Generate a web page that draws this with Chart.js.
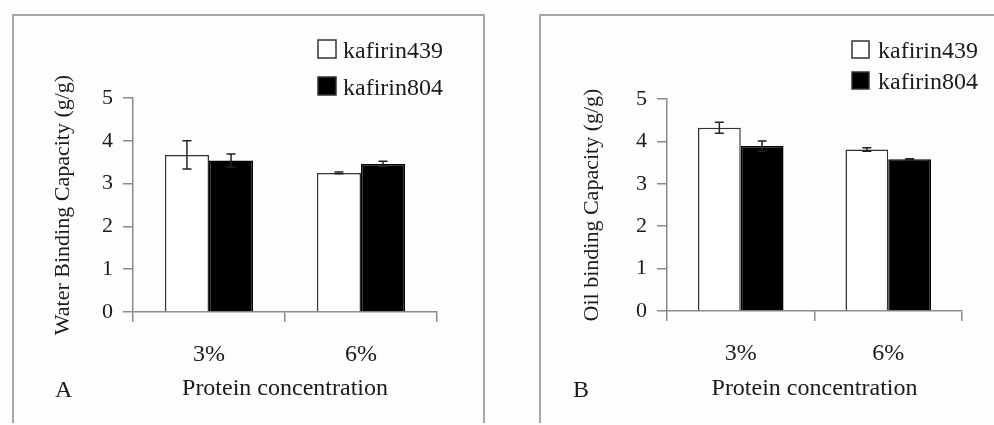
<!DOCTYPE html>
<html>
<head>
<meta charset="utf-8">
<script src="https://cdn.jsdelivr.net/npm/chart.js@4/dist/chart.umd.min.js"></script>
<style>
  html, body { margin: 0; padding: 0; background: #fdfdfd; }
  body { width: 994px; height: 425px; position: relative; overflow: hidden; }
  .frame { position: absolute; border: 2px solid #a6a6a6; border-bottom: none; box-sizing: border-box; }
  canvas { position: absolute; top: 0; }
</style>
</head>
<body>
<div class="frame" style="left:12px; top:14px; width:473px; height:409px;"></div>
<div class="frame" style="left:539px; top:14px; width:470px; height:409px; border-right:none;"></div>
<canvas id="chartA" width="500" height="425" style="left:0px;"></canvas>
<canvas id="chartB" width="494" height="425" style="left:500px;"></canvas>
<script>
// ---- data ----
const categories = ['3%', '6%'];
const seriesNames = ['kafirin439', 'kafirin804'];
const yTicks = [0, 1, 2, 3, 4, 5];

// Panel A: Water Binding Capacity (g/g)
const waterK439 = [3.67, 3.25];
const waterK439Err = [0.33, 0.02];
const waterK804 = [3.54, 3.46];
const waterK804Err = [0.15, 0.06];

// Panel B: Oil binding Capacity (g/g)
const oilK439 = [4.32, 3.81];
const oilK439Err = [0.13, 0.04];
const oilK804 = [3.89, 3.58];
const oilK804Err = [0.12, 0.01];

const xTitle = 'Protein concentration';
const yTitleA = 'Water Binding Capacity (g/g)';
const yTitleB = 'Oil binding Capacity (g/g)';

// ---- styling ----
const SERIF = '"Liberation Serif", "Times New Roman", serif';
Chart.defaults.font.family = SERIF;
Chart.defaults.color = '#1a1a1a';
const AXIS = '#8a8a8a';

const errorBarPlugin = {
  id: 'errorBars',
  afterDatasetsDraw(chart) {
    const ctx = chart.ctx;
    const ys = chart.scales.y;
    ctx.save();
    ctx.strokeStyle = '#222';
    ctx.lineWidth = 1.5;
    chart.data.datasets.forEach((ds, di) => {
      const meta = chart.getDatasetMeta(di);
      meta.data.forEach((bar, j) => {
        const v = ds.data[j], e = ds.errors[j];
        const x = bar.x;
        const t = ys.getPixelForValue(v + e), b = ys.getPixelForValue(v - e);
        ctx.beginPath();
        ctx.moveTo(x, t); ctx.lineTo(x, b);
        ctx.moveTo(x - 4.5, t); ctx.lineTo(x + 4.5, t);
        ctx.moveTo(x - 4.5, b); ctx.lineTo(x + 4.5, b);
        ctx.stroke();
      });
    });
    ctx.restore();
  }
};

const boxLegendPlugin = {
  id: 'boxLegend',
  afterDraw(chart, args, o) {
    const ctx = chart.ctx;
    ctx.save();
    ctx.font = '24px ' + SERIF;
    ctx.textBaseline = 'alphabetic';
    ctx.textAlign = 'left';
    chart.data.datasets.forEach((ds, i) => {
      const y = o.y + i * o.rowGap;
      ctx.fillStyle = ds.backgroundColor;
      ctx.fillRect(o.x, y, o.box, o.box);
      ctx.strokeStyle = '#333';
      ctx.lineWidth = 1.5;
      ctx.strokeRect(o.x, y, o.box, o.box);
      ctx.fillStyle = '#1a1a1a';
      ctx.fillText(ds.label, o.textX, y + o.box);
    });
    if (o.panel) {
      ctx.fillText(o.panel, o.panelX, o.panelY);
    }
    ctx.restore();
  }
};

function makeChart(id, v439, e439, v804, e804, yTitle, geo) {
  return new Chart(document.getElementById(id), {
    type: 'bar',
    data: {
      labels: categories,
      datasets: [
        { label: seriesNames[0], data: v439, errors: e439, backgroundColor: '#ffffff', borderColor: '#333', borderWidth: 1.5 },
        { label: seriesNames[1], data: v804, errors: e804, backgroundColor: '#000000', borderColor: '#000', borderWidth: 1.5 }
      ]
    },
    options: {
      responsive: false,
      animation: false,
      events: [],
      layout: { padding: { left: 0, top: geo.top, right: geo.right, bottom: 0 } },
      datasets: { bar: { barPercentage: 1.0, categoryPercentage: 0.58 } },
      plugins: {
        legend: { display: false },
        tooltip: { enabled: false },
        boxLegend: geo.legend
      },
      scales: {
        x: {
          afterFit: s => { s.height = geo.xHeight; },
          grid: { offset: true, drawOnChartArea: false, tickLength: 10, color: AXIS, lineWidth: 1.5 },
          border: { color: AXIS, width: 1.5 },
          ticks: { font: { size: 24 }, padding: 18, color: '#1a1a1a' },
          title: { display: true, text: xTitle, font: { size: 24 }, padding: { top: 0, bottom: 22 }, color: '#1a1a1a' }
        },
        y: {
          min: 0, max: 5,
          afterFit: s => { s.width = geo.yWidth; },
          afterBuildTicks: s => { s.ticks = yTicks.map(v => ({ value: v })); },
          grid: { drawOnChartArea: false, tickLength: 10, color: AXIS, lineWidth: 1.5 },
          border: { color: AXIS, width: 1.5 },
          ticks: { font: { size: 22 }, padding: 10, color: '#1a1a1a' },
          title: { display: true, text: yTitle, font: { size: 22 }, padding: { top: geo.yTitlePad, bottom: 0 }, color: '#1a1a1a' }
        }
      }
    },
    plugins: [errorBarPlugin, boxLegendPlugin]
  });
}

makeChart('chartA', waterK439, waterK439Err, waterK804, waterK804Err, yTitleA, {
  top: 98, right: 63, xHeight: 113, yWidth: 133, yTitlePad: 50,
  legend: { x: 318, y: 40, box: 18, rowGap: 37, textX: 343, panel: 'A', panelX: 55, panelY: 397 }
});

makeChart('chartB', oilK439, oilK439Err, oilK804, oilK804Err, yTitleB, {
  top: 99, right: 32, xHeight: 114, yWidth: 167, yTitlePad: 79,
  legend: { x: 352, y: 41, box: 17, rowGap: 31, textX: 378, panel: 'B', panelX: 73, panelY: 397 }
});
</script>
</body>
</html>
